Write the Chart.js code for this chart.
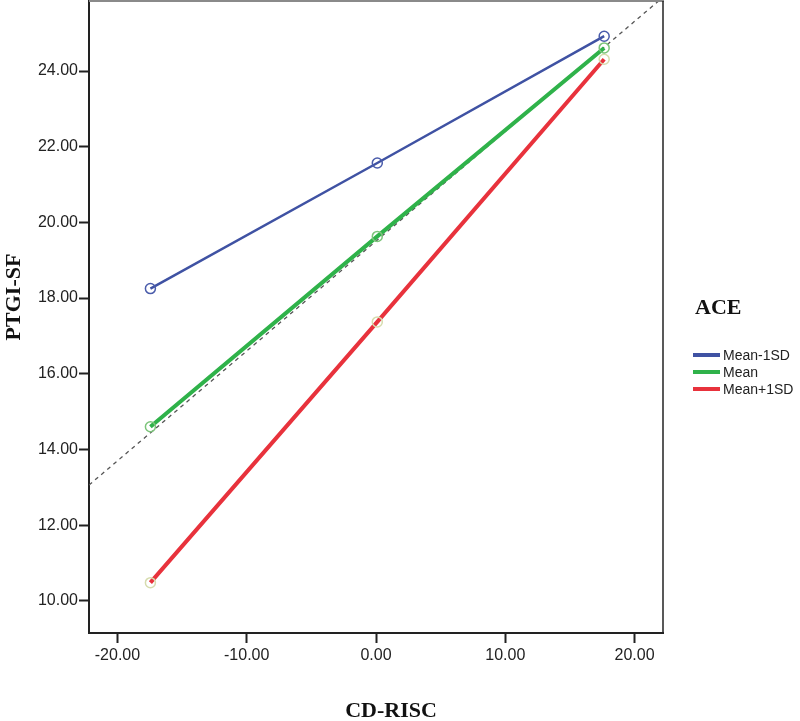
<!DOCTYPE html>
<html><head><meta charset="utf-8">
<script src="https://cdn.jsdelivr.net/npm/chart.js@4/dist/chart.umd.min.js"></script>
<style>
html,body{margin:0;padding:0;background:#fff;}
#wrap{position:relative;width:800px;height:721px;}
canvas{position:absolute;left:0;top:0;}
</style></head><body>
<div id="wrap"><canvas id="c" width="800" height="721"></canvas></div>
<script>
// ---- data ----
const legendTitle = 'ACE';
const seriesNames = ['Mean-1SD', 'Mean', 'Mean+1SD'];
const cdRisc = [-17.45, 0.1, 17.65];           // x positions (CD-RISC centred)
const meanMinus1SD = [18.25, 21.57, 24.92];
const meanVals = [14.60, 19.63, 24.61];
const meanPlus1SD = [10.48, 17.37, 24.31];
const refLineX = [-22.2, 22.2];                 // dashed reference line
const refLineY = [13.06, 25.95];
const xTicks = [-20, -10, 0, 10, 20];
const yTicks = [10, 12, 14, 16, 18, 20, 22, 24];
const xTitle = 'CD-RISC';
const yTitle = 'PTGI-SF';

const lineColors = ['#3f52a3', '#2fb24a', '#e8323c'];
const markerColors = ['#4a5cab', '#7cc47a', '#d6dcae'];
const lineWidths = [2.5, 4, 4];

const pts = (xs, ys) => xs.map((x, i) => ({x, y: ys[i]}));
const seriesVals = [meanMinus1SD, meanVals, meanPlus1SD];

const datasets = seriesVals.map((vals, i) => ({
  label: seriesNames[i],
  data: pts(cdRisc, vals),
  borderColor: lineColors[i],
  borderWidth: lineWidths[i],
  pointStyle: 'circle',
  pointRadius: 5,
  pointBorderWidth: 1.5,
  pointBorderColor: markerColors[i],
  pointBackgroundColor: 'rgba(0,0,0,0)',
  tension: 0,
  fill: false
}));
datasets.push({
  label: 'ref',
  data: pts(refLineX, refLineY),
  borderColor: '#555',
  borderWidth: 1.3,
  borderDash: [4, 4],
  pointRadius: 0,
  tension: 0,
  fill: false
});

const sans = '"Liberation Sans", Arial, sans-serif';
const serif = '"Liberation Serif", "Times New Roman", serif';

const decor = {
  id: 'decor',
  afterDraw(chart) {
    const ctx = chart.ctx, a = chart.chartArea;
    ctx.save();
    // top frame (gray) and right frame (black)
    ctx.strokeStyle = '#8a8a8a'; ctx.lineWidth = 2;
    ctx.beginPath(); ctx.moveTo(a.left, a.top); ctx.lineTo(a.right + 1, a.top); ctx.stroke();
    ctx.strokeStyle = '#222'; ctx.lineWidth = 1.5;
    ctx.beginPath(); ctx.moveTo(a.right, a.top); ctx.lineTo(a.right, a.bottom); ctx.stroke();
    // axis titles
    ctx.fillStyle = '#111';
    ctx.font = 'bold 22px ' + serif;
    ctx.textAlign = 'center'; ctx.textBaseline = 'middle';
    ctx.fillText(xTitle, (a.left + a.right) / 2 + 15, 711);
    ctx.save();
    ctx.translate(14, 297);
    ctx.rotate(-Math.PI / 2);
    ctx.fillText(yTitle, 0, 0);
    ctx.restore();
    // legend
    ctx.textAlign = 'left'; ctx.textBaseline = 'alphabetic';
    ctx.font = 'bold 22px ' + serif;
    ctx.fillText(legendTitle, 695, 314);
    ctx.font = '14px ' + sans;
    ctx.textBaseline = 'middle';
    seriesNames.forEach((n, i) => {
      const y = 355 + i * 17;
      ctx.strokeStyle = lineColors[i]; ctx.lineWidth = 4;
      ctx.beginPath(); ctx.moveTo(693, y); ctx.lineTo(720, y); ctx.stroke();
      ctx.fillStyle = '#222';
      ctx.fillText(n, 723, y + 1);
    });
    ctx.restore();
  }
};

new Chart(document.getElementById('c'), {
  type: 'line',
  data: {datasets},
  plugins: [decor],
  options: {
    responsive: false,
    animation: false,
    devicePixelRatio: 1,
    layout: {autoPadding: false, padding: {top: 1, right: 137, left: 0, bottom: 0}},
    plugins: {legend: {display: false}, tooltip: {enabled: false}},
    scales: {
      x: {
        type: 'linear', min: -22.2, max: 22.2,
        afterFit(s) { s.height = 88; s.paddingLeft = 0; s.paddingRight = 0; },
        afterBuildTicks(s) { s.ticks = xTicks.map(v => ({value: v})); },
        ticks: {includeBounds: false, padding: 3, color: '#222', font: {family: sans, size: 16},
                maxRotation: 0, callback: v => v.toFixed(2)},
        grid: {drawOnChartArea: false, drawTicks: true, tickLength: 10, tickColor: '#222', tickWidth: 2},
        border: {display: true, color: '#222', width: 2}
      },
      y: {
        type: 'linear', min: 9.15, max: 25.85,
        afterFit(s) { s.width = 89; s.paddingTop = 0; s.paddingBottom = 0; },
        afterBuildTicks(s) { s.ticks = yTicks.map(v => ({value: v})); },
        ticks: {includeBounds: false, padding: 1, color: '#222', font: {family: sans, size: 16},
                callback: v => v.toFixed(2)},
        grid: {drawOnChartArea: false, drawTicks: true, tickLength: 10, tickColor: '#222', tickWidth: 2},
        border: {display: true, color: '#222', width: 2}
      }
    }
  }
});
</script>
</body></html>
